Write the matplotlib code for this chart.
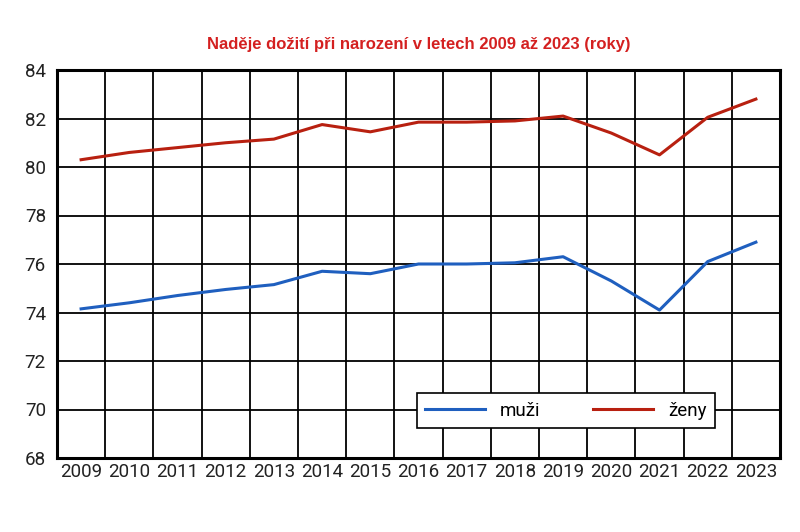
import matplotlib.pyplot as plt
import numpy as np

years = [str(y) for y in range(2009, 2024)]
muzi = [74.15, 74.4, 74.7, 74.95, 75.15, 75.7, 75.6, 76.0, 76.0, 76.05, 76.3, 75.3, 74.1, 76.1, 76.9]
zeny = [80.3, 80.6, 80.8, 81.0, 81.15, 81.75, 81.45, 81.85, 81.85, 81.9, 82.1, 81.4, 80.5, 82.05, 82.8]

plt.rcParams['font.family'] = ['Roboto', 'DejaVu Sans']

fig = plt.figure(figsize=(8, 5.32), dpi=100)
ax = fig.add_axes([57/800, 1-458/532, 723/800, 388/532])
x = np.arange(len(years))
ax.plot(x, muzi, color='#1f5fbf', lw=2.2, label='muži')
ax.plot(x, zeny, color='#b82010', lw=2.2, label='ženy')

ax.set_xlim(-0.5, len(years) - 0.5)
ax.set_ylim(68, 84)
ax.set_yticks(range(68, 85, 2))
ax.set_xticks(x)
ax.set_xticklabels(years)
ax.set_xticks(np.arange(-0.5, len(years)), minor=True)
ax.grid(which='minor', axis='x', color='black', lw=1.3)
ax.grid(which='major', axis='y', color='black', lw=1.3)
ax.tick_params(which='both', length=0, labelsize=13.5, colors='#222222')
ax.tick_params(axis='y', pad=8)
for s in ax.spines.values():
    s.set_linewidth(2.2)

ax.set_title('Naděje dožití při narození v letech 2009 až 2023 (roky)', color='#d42020',
             fontsize=12, fontweight='bold', family='Liberation Sans', pad=15)

leg = ax.legend(loc='lower right', bbox_to_anchor=(0.91, 0.077), ncol=2, fontsize=13.5,
                frameon=True, fancybox=False, edgecolor='black', handlelength=3.2,
                columnspacing=2.8, borderpad=0.45, borderaxespad=0)
leg.get_frame().set_linewidth(1.2)
leg.get_frame().set_alpha(1)

fig.savefig('out.png')
